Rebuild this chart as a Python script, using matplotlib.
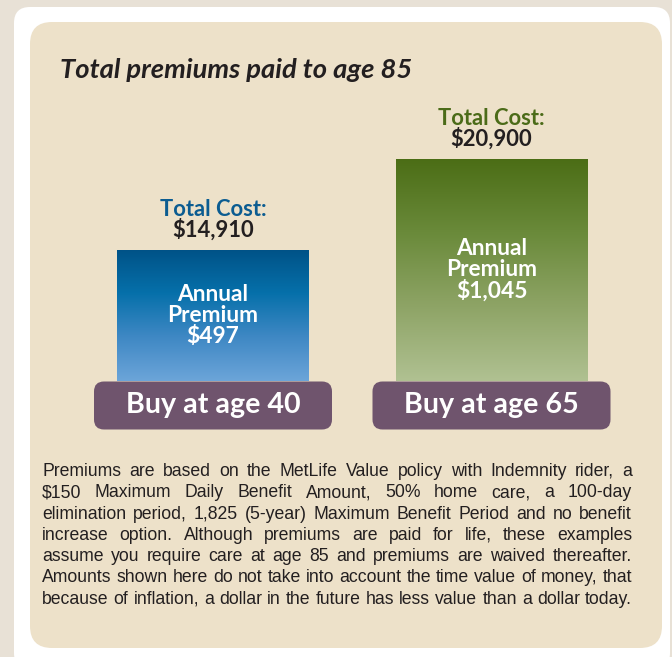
import numpy as np
import matplotlib
matplotlib.use('Agg')
import matplotlib.pyplot as plt
from matplotlib.patches import FancyBboxPatch
from matplotlib.colors import LinearSegmentedColormap

# Values
ages = [40, 65]
total_cost = [14910, 20900]
annual_premium = [497, 1045]
title = "Total premiums paid to age 85"
footnote = [
    "Premiums are based on the MetLife Value policy with Indemnity rider, a",
    "$150 Maximum Daily Benefit Amount, 50% home care, a 100-day",
    "elimination period, 1,825 (5-year) Maximum Benefit Period and no benefit",
    "increase option. Although premiums are paid for life, these examples",
    "assume you require care at age 85 and premiums are waived thereafter.",
    "Amounts shown here do not take into account the time value of money, that",
    "because of inflation, a dollar in the future has less value than a dollar today.",
]

# Styling
head_colors = ['#0b5c91', '#4b6b18']
gradients = [['#005287', '#0670aa', '#3f88c4', '#6ca5d9'],
             ['#4b6d15', '#6a8a3a', '#8ea466', '#b0c192']]
label_color = '#6f546d'
dark = '#231f20'
gill = ['Lato', 'DejaVu Sans']
helv = ['Liberation Sans', 'DejaVu Sans']

W, H = 672, 657
fig = plt.figure(figsize=(W / 100, H / 100), dpi=100)
fig.patch.set_facecolor('#e8e1d6')

# full-figure canvas in pixel units (y down)
cv = fig.add_axes((0, 0, 1, 1))
cv.set_xlim(0, W)
cv.set_ylim(H, 0)
cv.axis('off')
cv.add_patch(FancyBboxPatch((14, 7), 656, 662, boxstyle="round,pad=0,rounding_size=16",
                            fc='white', ec='none'))
cv.add_patch(FancyBboxPatch((30, 22), 632, 626, boxstyle="round,pad=0,rounding_size=22",
                            fc='#ede1c9', ec='none'))

renderer = fig.canvas.get_renderer()

def fit_size(s, width, base, **kw):
    t = cv.text(0, 0, s, fontsize=base, **kw)
    w = t.get_window_extent(renderer).width
    t.remove()
    return base * width / w

bold = dict(fontweight='bold', family=gill)
tsize = fit_size(title, 353, 16, fontstyle='italic', **bold)
head_size = fit_size("Total Cost:", 107, 14, **bold)
inner_size = fit_size("Premium", 92, 14, **bold)
label_size = fit_size("Buy at age 40", 174, 20, **bold)

cv.text(60, 78, title, fontsize=tsize, fontstyle='italic', color=dark, va='baseline', **bold)

# bar axes placed so that value 0 sits at BASE_PX and the max at TOP_PX
ax_left, ax_right, ax_top, ax_bot = 30, 662, 100, 400
BASE_PX, TOP_PX = 476.5, 159
k = max(total_cost) / (BASE_PX - TOP_PX)
ax = fig.add_axes((ax_left / W, 1 - ax_bot / H, (ax_right - ax_left) / W, (ax_bot - ax_top) / H))
ax.axis('off')
ax.patch.set_alpha(0)

c0, step = 213, 278.5
x = np.arange(len(ages))
xlim = ((ax_left - c0) / step, (ax_right - c0) / step)
ylim = ((BASE_PX - ax_bot) * k, (BASE_PX - ax_top) * k)
width = 192 / step
label_top_px = 381.5
label_top_val = (BASE_PX - label_top_px) * k

bars = ax.bar(x, total_cost, width, color='none', edgecolor='none')
grad = np.linspace(0, 1, 256).reshape(-1, 1)
for i, b in enumerate(bars):
    cmap = LinearSegmentedColormap.from_list('g%d' % i, gradients[i])
    im = ax.imshow(grad, cmap=cmap, aspect='auto', origin='upper',
                   extent=(b.get_x(), b.get_x() + b.get_width(), label_top_val, b.get_height()))
    im.set_clip_path(b)

    ax.annotate("Total Cost:", (x[i], total_cost[i]), xytext=(0, 34 * 0.72),
                textcoords='offset points', ha='center', va='baseline',
                fontsize=head_size, color=head_colors[i], **bold)
    ax.annotate("${:,}".format(total_cost[i]), (x[i], total_cost[i]), xytext=(0, 13.5 * 0.72),
                textcoords='offset points', ha='center', va='baseline',
                fontsize=head_size, color=dark, **bold)

    mid = (total_cost[i] + label_top_val) / 2
    for j, s in enumerate(["Annual", "Premium", "${:,}".format(annual_premium[i])]):
        ax.annotate(s, (x[i], mid), xytext=(0, (-6 - 21 * (j - 1)) * 0.72),
                    textcoords='offset points', ha='center', va='baseline',
                    fontsize=inner_size, color='white', **bold)

ax.set_xlim(*xlim)
ax.set_ylim(*ylim)

# "Buy at age" labels
for i, a in enumerate(ages):
    cx = ax_left + (x[i] - xlim[0]) / (xlim[1] - xlim[0]) * (ax_right - ax_left)
    cv.add_patch(FancyBboxPatch((cx - 119, label_top_px), 238, 48,
                                boxstyle="round,pad=0,rounding_size=10",
                                fc=label_color, ec='none', zorder=5))
    cv.text(cx, label_top_px + 31, "Buy at age %d" % a, ha='center', va='baseline',
            fontsize=label_size, color='white', zorder=6, **bold)

# justified footnote
fx0, fx1 = 42, 632
fsize = fit_size(footnote[-1], fx1 - fx0, 12, family=helv)
for li, line in enumerate(footnote):
    y = 476 + 21.3 * li
    words = line.split(' ')
    txts = [cv.text(0, y, w, fontsize=fsize, family=helv, color=dark, va='baseline')
            for w in words]
    widths = [t.get_window_extent(renderer).width for t in txts]
    gap = (fx1 - fx0 - sum(widths)) / (len(words) - 1)
    pos = fx0
    for t, w in zip(txts, widths):
        t.set_x(pos)
        pos += w + gap

fig.savefig('out.png', dpi=100, facecolor=fig.get_facecolor())
